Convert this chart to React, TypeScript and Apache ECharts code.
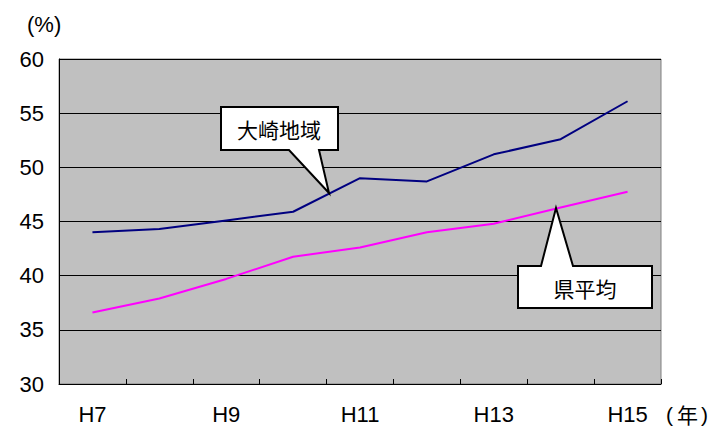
import React, { useEffect, useRef } from "react";
import * as echarts from "echarts";

const categories = ["H7", "H8", "H9", "H10", "H11", "H12", "H13", "H14", "H15"];
const osakiValues = [44.0, 44.3, 45.1, 45.9, 49.0, 48.7, 51.2, 52.6, 56.1];
const prefValues = [36.6, 37.9, 39.7, 41.75, 42.6, 44.0, 44.8, 46.3, 47.75];
const seriesNames = ["大崎地域", "県平均"];

const FONT = "Arial, 'Liberation Sans', sans-serif";
const CJK = "'Noto Sans CJK JP', sans-serif";

export default function App() {
  const ref = useRef<HTMLDivElement>(null);
  useEffect(() => {
    if (!ref.current) return;
    const chart = echarts.init(ref.current, null, { renderer: "svg" });
    chart.setOption({
      animation: false,
      backgroundColor: "#ffffff",
      grid: {
        left: 59,
        top: 59,
        right: 52,
        bottom: 44,
        show: true,
        backgroundColor: "#C0C0C0",
        borderColor: "#808080",
        borderWidth: 1,
      },
      xAxis: {
        type: "category",
        data: categories,
        boundaryGap: true,
        axisLine: { show: true, lineStyle: { color: "#000", width: 1 } },
        axisTick: { show: true, inside: true, length: 5, interval: 0, lineStyle: { color: "#000" } },
        axisLabel: { interval: 1, color: "#000", fontSize: 22, fontFamily: FONT, margin: 19 },
        splitLine: { show: false },
      },
      yAxis: {
        type: "value",
        min: 30,
        max: 60,
        interval: 5,
        axisLine: { show: true, lineStyle: { color: "#000", width: 1 } },
        axisTick: { show: true, inside: true, length: 5, lineStyle: { color: "#000" } },
        axisLabel: { color: "#000", fontSize: 22, fontFamily: FONT, margin: 15 },
        splitLine: { show: true, lineStyle: { color: "#000", width: 1 } },
      },
      series: [
        {
          name: seriesNames[0],
          type: "line",
          data: osakiValues,
          symbol: "none",
          lineStyle: { color: "#000080", width: 2 },
          z: 2,
        },
        {
          name: seriesNames[1],
          type: "line",
          data: prefValues,
          symbol: "none",
          lineStyle: { color: "#FF00FF", width: 2 },
          z: 2,
        },
      ],
      graphic: [
        {
          type: "text",
          x: 27,
          y: 24,
          style: { text: "(%)", font: `22px ${FONT}`, fill: "#000", verticalAlign: "middle" },
        },
        {
          type: "text",
          x: 666,
          y: 414,
          style: { text: "(", font: `21px ${FONT}`, fill: "#000", verticalAlign: "middle" },
        },
        {
          type: "text",
          x: 677,
          y: 414,
          style: { text: "年", font: `21px ${CJK}`, fill: "#000", verticalAlign: "middle" },
        },
        {
          type: "text",
          x: 701,
          y: 414,
          style: { text: ")", font: `21px ${FONT}`, fill: "#000", verticalAlign: "middle" },
        },
        {
          type: "polygon",
          shape: {
            points: [
              [221, 107], [338, 107], [338, 150], [319, 150], [329, 193], [289, 150], [221, 150],
            ],
          },
          style: { fill: "#fff", stroke: "#000", lineWidth: 2 },
          z: 100,
        },
        {
          type: "text",
          x: 279,
          y: 129,
          style: { text: seriesNames[0], font: `21px ${CJK}`, fill: "#000", align: "center", verticalAlign: "middle" },
          z: 101,
        },
        {
          type: "polygon",
          shape: {
            points: [
              [518, 266], [541, 266], [556, 208], [573, 266], [652, 266], [652, 308], [518, 308],
            ],
          },
          style: { fill: "#fff", stroke: "#000", lineWidth: 2 },
          z: 100,
        },
        {
          type: "text",
          x: 585,
          y: 288,
          style: { text: seriesNames[1], font: `21px ${CJK}`, fill: "#000", align: "center", verticalAlign: "middle" },
          z: 101,
        },
      ],
    });
    return () => chart.dispose();
  }, []);
  return (
    <div
      ref={ref}
      style={{ position: "fixed", left: 0, top: 0, width: 713, height: 428 }}
    />
  );
}
